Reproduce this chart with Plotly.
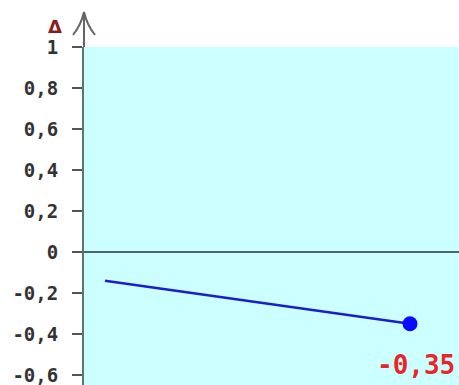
import plotly.graph_objects as go

# Data
x_vals = [1, 2]
y_vals = [-0.14, -0.35]
y_ticks = [1, 0.8, 0.6, 0.4, 0.2, 0, -0.2, -0.4, -0.6]
y_ticktext = [("%g" % v).replace(".", ",") for v in y_ticks]
axis_label = "Δ"

W, H = 459, 395
L, T = 84, 47
pw, ph = W - L, H - T

fig = go.Figure()
fig.add_trace(go.Scatter(
    x=x_vals, y=y_vals, mode="lines",
    line=dict(color="#1c1cd0", width=2.5), hoverinfo="skip"))
fig.add_trace(go.Scatter(
    x=[x_vals[-1]], y=[y_vals[-1]], mode="markers",
    marker=dict(color="#0a0aff", size=15), hoverinfo="skip"))

fig.add_annotation(
    x=x_vals[-1], y=y_vals[-1], xref="x", yref="y",
    text=("%.2f" % y_vals[-1]).replace(".", ","), showarrow=False,
    xanchor="center", yanchor="middle", xshift=6, yshift=-41,
    font=dict(family="DejaVu Sans Mono", size=26, color="#e8262a", weight="bold"))

fig.add_annotation(
    x=-29 / pw, y=1 + 21 / ph, xref="paper", yref="paper",
    text=axis_label, showarrow=False, xanchor="center", yanchor="middle",
    font=dict(family="DejaVu Sans", size=18, color="#8b1c1c", weight="bold"))

# axis arrow
arrow_col = "#666666"
fig.add_shape(type="line", xref="paper", yref="paper",
              x0=0, x1=0, y0=1, y1=1 + 35 / ph,
              line=dict(color=arrow_col, width=2))
fig.add_shape(type="path", xref="paper", yref="paper",
              path=(f"M {-11 / pw},{1 + 12 / ph} Q {-3 / pw},{1 + 22 / ph} 0,{1 + 35 / ph}"
                    f" Q {3 / pw},{1 + 22 / ph} {11 / pw},{1 + 12 / ph}"),
              line=dict(color=arrow_col, width=2))

x0 = x_vals[0] - 21 / 305
x1 = x_vals[-1] + 49 / 305
y_bottom = (252 - H) / 205

fig.update_layout(
    width=W, height=H,
    margin=dict(l=L, r=0, t=T, b=0, pad=0),
    paper_bgcolor="white", plot_bgcolor="#ccffff",
    showlegend=False,
    xaxis=dict(range=[x0, x1], showgrid=False, showticklabels=False,
               zeroline=False, ticks="", showline=False),
    yaxis=dict(range=[y_bottom, 1.0], showgrid=False,
               tickvals=y_ticks, ticktext=y_ticktext,
               ticks="outside", ticklen=10, tickwidth=2, tickcolor="#555555",
               ticklabelstandoff=10, ticklabeloverflow="allow",
               showline=True, linecolor="#5f7373", linewidth=2,
               zeroline=True, zerolinecolor="#4d6666", zerolinewidth=2,
               tickfont=dict(family="DejaVu Sans Mono", size=19,
                             color="#333333", weight="bold")),
)

fig.write_html(
    "out.html",
    config={"displayModeBar": False, "staticPlot": True},
    post_script="document.body.style.margin='0';document.body.style.overflow='hidden';",
)
